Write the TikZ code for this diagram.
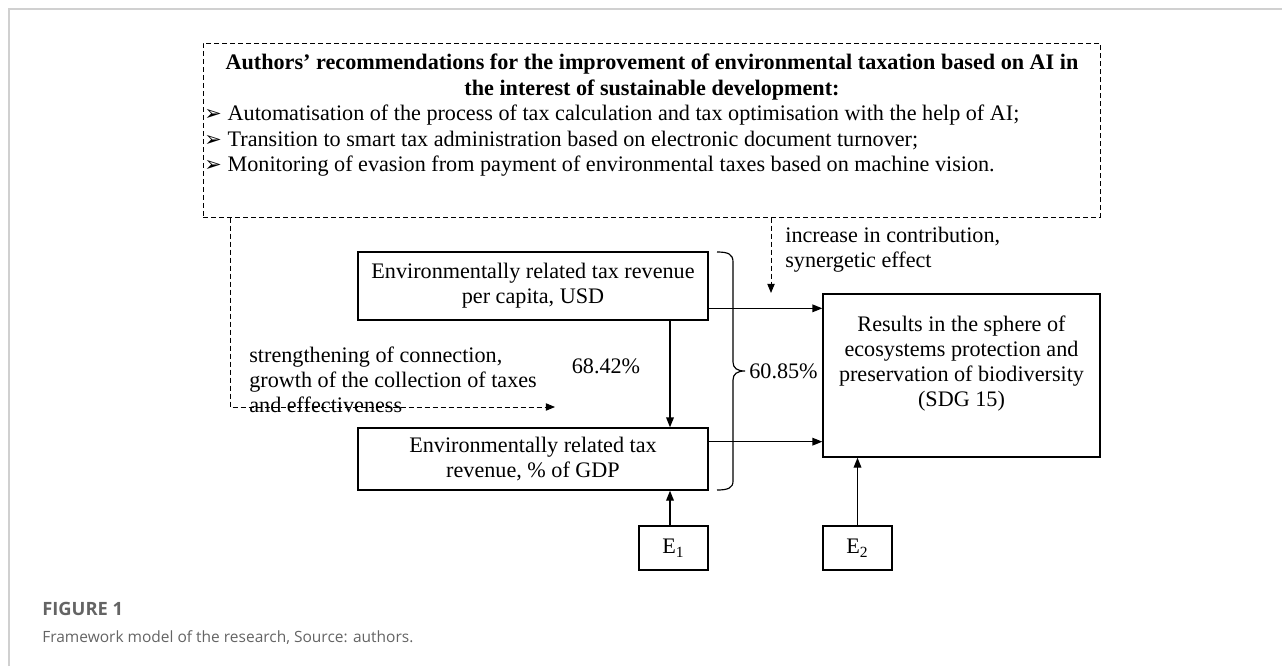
\documentclass[tikz,border=0pt]{standalone}
\usepackage{fontspec}
\setmainfont{Liberation Serif}
\newfontfamily\dejavu{DejaVu Sans}
\newfontfamily\capfont{Open Sans}
\usetikzlibrary{arrows.meta,calc}
\definecolor{framegray}{RGB}{208,208,208}
\definecolor{capgray}{RGB}{100,100,100}
\newcommand{\bulmark}{\makebox[14pt][l]{\dejavu\fontsize{12.5}{12}\selectfont ➢}}
\begin{document}
\begin{tikzpicture}[x=0.6pt,y=-0.6pt,
  txt/.style={font=\fontsize{13.3}{15}\selectfont, inner sep=0pt},
  boxnode/.style={draw, line width=0.8pt, inner sep=0pt, align=center, font=\fontsize{13.3}{15}\selectfont},
  dashline/.style={line width=0.6pt, dash pattern=on 3pt off 1.8pt},
  arr/.style={line width=0.8pt, -{Triangle[length=6pt,width=4.6pt]}},
  darr/.style={dashline, -{Triangle[length=5.5pt,width=4.4pt]}},
]
\useasboundingbox (0,0) rectangle (1282,666);
\draw[framegray, line width=1.2pt] (9,666) -- (9,9) -- (1282,9);

% top dashed box
\node[draw, dashline, minimum width=538.2pt, minimum height=104.4pt, inner sep=0pt] (T) at (651.5,130) {};
\node[txt, font=\fontsize{13.3}{15}\selectfont\bfseries, anchor=base] (t1) at (652,70) {Authors’ recommendations for the improvement of environmental taxation based on AI in};
\node[txt, font=\fontsize{13.3}{15}\selectfont\bfseries, anchor=base] (t2) at (652,96) {the interest of sustainable development:};
\node[txt, anchor=base west] (b1) at (204,121) {\bulmark Automatisation of the process of tax calculation and tax optimisation with the help of AI;};
\node[txt, anchor=base west] (b2) at (204,146) {\bulmark Transition to smart tax administration based on electronic document turnover;};
\node[txt, anchor=base west] (b3) at (204,171) {\bulmark Monitoring of evasion from payment of environmental taxes based on machine vision.};

% boxes
\node[boxnode, minimum width=210pt, minimum height=40.8pt] (A) at (533,286) {Environmentally related tax revenue\\per capita, USD};
\node[boxnode, minimum width=210pt, minimum height=37.2pt] (B) at (533,459) {Environmentally related tax\\revenue, \% of GDP};
\node[draw, line width=0.8pt, minimum width=166.2pt, minimum height=97.8pt, inner sep=0pt] (R) at (961.5,375.5) {};
\node[txt, align=center] (Rt) at (961.5,364) {Results in the sphere of\\ecosystems protection and\\preservation of biodiversity\\(SDG 15)};
\node[boxnode, minimum width=41.4pt, minimum height=26.4pt] (E1) at (673.5,548) {E\textsubscript{1}};
\node[boxnode, minimum width=41.4pt, minimum height=26.4pt] (E2) at (857.5,548) {E\textsubscript{2}};

% solid connectors
\coordinate (cx) at (670,0);
\draw[arr] (A.south -| cx) -- (B.north -| cx);
\draw[arr] (E1.north -| cx) -- (B.south -| cx);
\coordinate (r1) at ($(R.north west)+(0,15)$);
\coordinate (r2) at ($(R.south west)+(0,-16)$);
\draw[arr] (A.east |- r1) -- (r1);
\draw[arr] (B.east |- r2) -- (r2);
\draw[arr] (E2.north) -- (E2.north |- R.south);

% dashed connectors
\coordinate (dl) at (230,407);
\coordinate (dtip) at (555,407);
\draw[darr] (T.south -| dl) -- (dl) -- (dtip);
\coordinate (dm) at (771,293);
\draw[darr] (T.south -| dm) -- (dm);

% brace
\draw[line width=0.7pt] (717,252) .. controls (728,252) and (733,254) .. (733,262) -- (733,362) .. controls (733,368) and (737,371) .. (745,371) .. controls (737,371) and (733,374) .. (733,380) -- (733,481) .. controls (733,488) and (728,490) .. (717,490);
\node[txt, anchor=west] (p2) at (749,371) {60.85\%};
\node[txt] (p1) at (606,366) {68.42\%};

% labels
\node[txt, anchor=base west] (i1) at (785,242) {increase in contribution,};
\node[txt, anchor=base west] (i2) at (785,267) {synergetic effect};
\node[txt, anchor=base west] (s1) at (249,362.5) {strengthening of connection,};
\node[txt, anchor=base west] (s2) at (249,387.5) {growth of the collection of taxes};
\node[txt, anchor=base west] (s3) at (249,412.5) {and effectiveness};

% caption
\node[anchor=base west, inner sep=0pt, font=\capfont\bfseries\fontsize{11}{12}\selectfont, text=capgray] (c1) at (42,615) {FIGURE 1};
\node[anchor=base west, inner sep=0pt, font=\capfont\fontsize{9.3}{12}\selectfont, text=capgray] (c2) at (42,642) {Framework model of the research, Source: authors.};
\end{tikzpicture}
\end{document}
